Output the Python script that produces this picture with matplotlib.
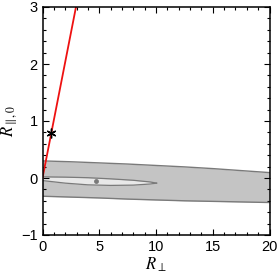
import matplotlib.pyplot as plt
from matplotlib.ticker import MultipleLocator

plt.rcParams['font.family'] = ['Liberation Sans', 'DejaVu Sans']
plt.rcParams['mathtext.fontset'] = 'stix'

# outer band (grey region)
band_x = [0, 2.5, 5, 7.5, 10, 12.5, 15, 17.5, 20]
band_top = [0.30, 0.285, 0.265, 0.245, 0.22, 0.195, 0.165, 0.13, 0.095]
band_bot = [-0.32, -0.335, -0.35, -0.37, -0.385, -0.40, -0.41, -0.42, -0.43]

# inner lens (light region)
lens_x = [0, 2, 4, 6, 8, 9.5, 10.05]
lens_top = [0.02, 0.015, 0.005, -0.015, -0.04, -0.07, -0.09]
lens_bot = [-0.045, -0.09, -0.12, -0.13, -0.125, -0.105, -0.09]

# centre dot
dot_x, dot_y = 4.7, -0.05

# red line and star
line_x = [0, 2.95]
line_y = [0, 3]
star_x, star_y = 0.75, 0.79

fig = plt.figure(figsize=(2.77, 2.73), dpi=100)
ax = fig.add_axes([42.5/277, 1 - 235/273, 227/277, 228/273])

ax.fill_between(band_x, band_bot, band_top, color='#c4c4c4', lw=0)
ax.plot(band_x, band_top, color='#7a7a7a', lw=1)
ax.plot(band_x, band_bot, color='#7a7a7a', lw=1)

ax.fill_between(lens_x, lens_bot, lens_top, color='#e8e8e8', lw=0)
ax.plot(lens_x, lens_top, color='#7a7a7a', lw=0.9)
ax.plot(lens_x, lens_bot, color='#7a7a7a', lw=0.9)
ax.plot(dot_x, dot_y, 'o', color='#7a7a7a', ms=3.5, mew=0)

ax.plot(line_x, line_y, color='#ee1111', lw=1.3)
ax.plot(star_x, star_y, marker=(6, 2, 0), color='black', ms=7, mew=1.0)

ax.set_xlim(0, 20)
ax.set_ylim(-1, 3)
ax.xaxis.set_major_locator(MultipleLocator(5))
ax.xaxis.set_minor_locator(MultipleLocator(1))
ax.yaxis.set_major_locator(MultipleLocator(1))
ax.yaxis.set_minor_locator(MultipleLocator(0.2))
ax.tick_params(which='both', direction='in', top=True, right=True, labelsize=10.5, width=0.8)
ax.tick_params(which='major', length=4)
ax.tick_params(which='minor', length=2)
for s in ax.spines.values():
    s.set_linewidth(1.1)

ax.set_xlabel(r'$R_{\perp}$', fontsize=12, labelpad=1)
ax.set_ylabel(r'$R_{\parallel,0}$', fontsize=12, labelpad=1)

fig.savefig('out.png', dpi=100)
